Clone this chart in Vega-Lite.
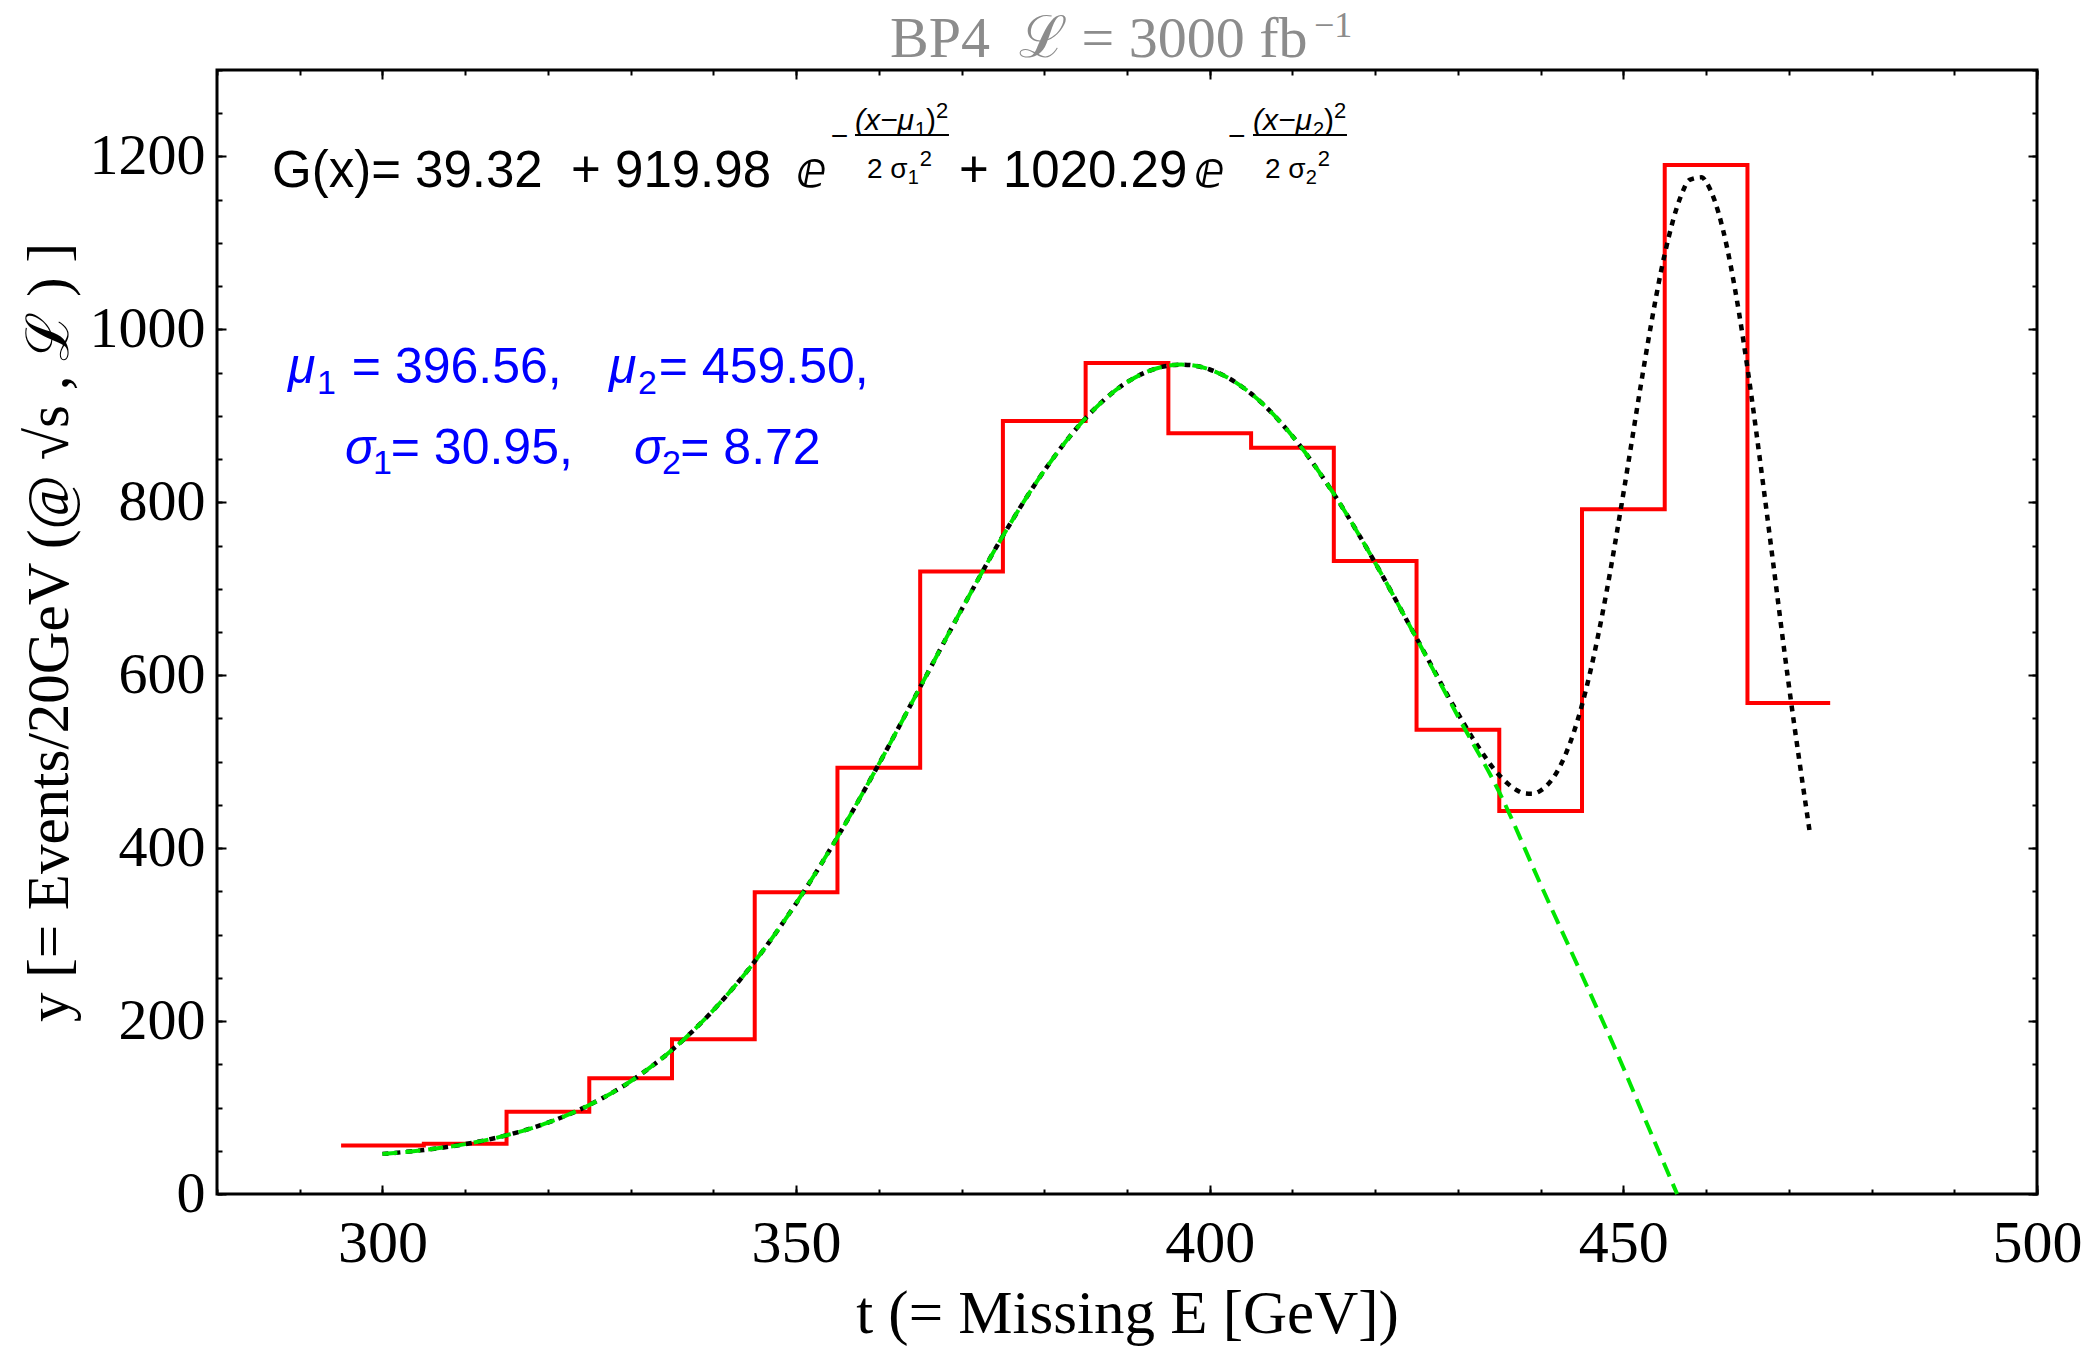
{
  "$schema": "https://vega.github.io/schema/vega-lite/v6.json",
  "width": 1820,
  "height": 1124,
  "autosize": {"type": "none"},
  "padding": {"left": 217, "top": 70, "right": 46, "bottom": 154},
  "background": "white",
  "config": {
    "view": {"stroke": "black", "strokeWidth": 3},
    "axis": {"grid": false, "domain": false, "tickColor": "black", "tickWidth": 2, "labelColor": "black", "titleColor": "black"}
  },
  "resolve": {"axis": {"x": "independent", "y": "independent"}},
  "layer": [
    {
      "data": {"values": [
        {"t": 295, "n": 56}, {"t": 305, "n": 58}, {"t": 315, "n": 95}, {"t": 325, "n": 134},
        {"t": 335, "n": 179}, {"t": 345, "n": 349}, {"t": 355, "n": 493}, {"t": 365, "n": 720},
        {"t": 375, "n": 894}, {"t": 385, "n": 961}, {"t": 395, "n": 880}, {"t": 405, "n": 863},
        {"t": 415, "n": 732}, {"t": 425, "n": 537}, {"t": 435, "n": 443}, {"t": 445, "n": 792},
        {"t": 455, "n": 1190}, {"t": 465, "n": 568}, {"t": 475, "n": 568}
      ]},
      "mark": {"type": "line", "interpolate": "step-after", "color": "#ff0000", "strokeWidth": 4},
      "encoding": {
        "x": {"field": "t", "type": "quantitative", "scale": {"domain": [280, 500], "nice": false, "zero": false},
          "axis": {"orient": "bottom", "values": [300, 350, 400, 450, 500], "tickSize": -9, "labelPadding": 29,
            "labelFont": "Liberation Serif", "labelFontSize": 60, "labelFlush": false, "labelOverlap": false, "format": "d",
            "title": "t (= Missing E [GeV])", "titleFont": "Liberation Serif", "titleFontSize": 61, "titleFontWeight": "normal",
            "titleX": 910, "titleY": 138, "titleBaseline": "alphabetic", "titleAlign": "center"}},
        "y": {"field": "n", "type": "quantitative", "scale": {"domain": [0, 1300], "nice": false, "zero": false},
          "axis": {"orient": "left", "values": [0, 200, 400, 600, 800, 1000, 1200], "tickSize": -9, "labelPadding": 21,
            "labelFont": "Liberation Serif", "labelFontSize": 58, "labelFlush": false, "labelOverlap": false, "format": "d",
            "title": "y [= Events/20GeV (@ √s , ℒ ) ]", "titleFont": "Liberation Serif", "titleFontSize": 59, "titleFontWeight": "normal",
            "titleX": -150, "titleY": 562, "titleAngle": -90, "titleBaseline": "alphabetic", "titleAlign": "center"}}
      }
    },
    {
      "data": {"values": [
        {"t": 300, "g": 46.4}, {"t": 305, "g": 50.9}, {"t": 310, "g": 57.7}, {"t": 315, "g": 67.9},
        {"t": 320, "g": 82.5}, {"t": 325, "g": 102.9}, {"t": 330, "g": 130.4}, {"t": 335, "g": 166.6},
        {"t": 340, "g": 212.6}, {"t": 345, "g": 269.0}, {"t": 350, "g": 336.1}, {"t": 355, "g": 412.8},
        {"t": 360, "g": 497.2}, {"t": 365, "g": 586.3}, {"t": 370, "g": 675.9}, {"t": 375, "g": 761.1},
        {"t": 380, "g": 836.6}, {"t": 385, "g": 897.3}, {"t": 390, "g": 938.9}, {"t": 395, "g": 958.1},
        {"t": 396.56, "g": 959.3}, {"t": 400, "g": 953.6}, {"t": 405, "g": 925.7}, {"t": 410, "g": 876.5},
        {"t": 415, "g": 809.7}, {"t": 420, "g": 730.0}, {"t": 425, "g": 642.9}, {"t": 430, "g": 555.9},
        {"t": 432, "g": 524.0}, {"t": 435, "g": 484.4}, {"t": 437, "g": 467.7}, {"t": 438, "g": 463.5},
        {"t": 439, "g": 463.0}, {"t": 440, "g": 466.6}, {"t": 442, "g": 488.6}, {"t": 443, "g": 508.1},
        {"t": 445, "g": 565.7}, {"t": 447, "g": 648.3}, {"t": 448, "g": 698.1}, {"t": 450, "g": 810.1},
        {"t": 452, "g": 929.0}, {"t": 453, "g": 986.5}, {"t": 455, "g": 1087.1}, {"t": 457, "g": 1155.2},
        {"t": 458, "g": 1172.9}, {"t": 459.5, "g": 1175.9}, {"t": 460, "g": 1170.5}, {"t": 461, "g": 1149.9},
        {"t": 462, "g": 1116.9}, {"t": 464, "g": 1018.1}, {"t": 465, "g": 955.3}, {"t": 467, "g": 813.1},
        {"t": 468, "g": 737.9}, {"t": 470, "g": 588.6}, {"t": 472.5, "g": 420.4}
      ]},
      "mark": {"type": "line", "interpolate": "monotone", "color": "black", "strokeWidth": 4.5, "strokeDash": [6, 6]},
      "encoding": {
        "x": {"field": "t", "type": "quantitative", "axis": {"orient": "bottom", "values": [280, 290, 300, 310, 320, 330, 340, 350, 360, 370, 380, 390, 400, 410, 420, 430, 440, 450, 460, 470, 480, 490, 500], "tickSize": -5, "labels": false, "title": null}},
        "y": {"field": "g", "type": "quantitative", "axis": {"orient": "left", "values": [0, 50, 100, 150, 200, 250, 300, 350, 400, 450, 500, 550, 600, 650, 700, 750, 800, 850, 900, 950, 1000, 1050, 1100, 1150, 1200, 1250, 1300], "tickSize": -5, "labels": false, "title": null}}
      }
    },
    {
      "data": {"values": [
        {"t": 300, "f": 46.4}, {"t": 305, "f": 50.9}, {"t": 310, "f": 57.7}, {"t": 315, "f": 67.9},
        {"t": 320, "f": 82.5}, {"t": 325, "f": 102.9}, {"t": 330, "f": 130.4}, {"t": 335, "f": 166.6},
        {"t": 340, "f": 212.6}, {"t": 345, "f": 269.0}, {"t": 350, "f": 336.1}, {"t": 355, "f": 412.8},
        {"t": 360, "f": 497.2}, {"t": 365, "f": 586.3}, {"t": 370, "f": 675.9}, {"t": 375, "f": 761.1},
        {"t": 380, "f": 836.6}, {"t": 385, "f": 897.3}, {"t": 390, "f": 938.9}, {"t": 395, "f": 958.1},
        {"t": 396.56, "f": 959.3}, {"t": 400, "f": 953.6}, {"t": 405, "f": 925.7}, {"t": 410, "f": 876.5},
        {"t": 415, "f": 809.7}, {"t": 420, "f": 729.9}, {"t": 425, "f": 642.5}, {"t": 430, "f": 552.5},
        {"t": 435, "f": 464.7}, {"t": 440, "f": 358}, {"t": 445, "f": 253}, {"t": 450, "f": 146},
        {"t": 453, "f": 78}, {"t": 456.5, "f": 0}
      ]},
      "mark": {"type": "line", "interpolate": "monotone", "color": "#00e600", "strokeWidth": 4, "strokeDash": [15, 8]},
      "encoding": {
        "x": {"field": "t", "type": "quantitative", "axis": {"orient": "top", "values": [300, 350, 400, 450, 500], "tickSize": -9, "labels": false, "title": null}},
        "y": {"field": "f", "type": "quantitative", "axis": {"orient": "right", "values": [0, 200, 400, 600, 800, 1000, 1200], "tickSize": -9, "labels": false, "title": null}}
      }
    },
    {
      "data": {"values": [{}]},
      "mark": {"type": "rule", "color": "black", "strokeWidth": 2},
      "encoding": {
        "x": {"datum": 357.12, "type": "quantitative", "axis": {"orient": "top", "values": [280, 290, 300, 310, 320, 330, 340, 350, 360, 370, 380, 390, 400, 410, 420, 430, 440, 450, 460, 470, 480, 490, 500], "tickSize": -5, "labels": false, "title": null}},
        "x2": {"datum": 368.48},
        "y": {"datum": 1224.8, "type": "quantitative", "axis": {"orient": "right", "values": [0, 50, 100, 150, 200, 250, 300, 350, 400, 450, 500, 550, 600, 650, 700, 750, 800, 850, 900, 950, 1000, 1050, 1100, 1150, 1200, 1250, 1300], "tickSize": -5, "labels": false, "title": null}}
      }
    },
    {
      "data": {"values": [{}]},
      "mark": {"type": "rule", "color": "black", "strokeWidth": 2},
      "encoding": {
        "x": {"datum": 405.23, "type": "quantitative", "axis": null},
        "x2": {"datum": 416.59},
        "y": {"datum": 1224.8, "type": "quantitative", "axis": null}
      }
    },
    {"data": {"values": [{}]}, "mark": {"type": "text", "text": "BP4\u00a0 ℒ = 3000 fb", "font": "Liberation Serif", "fontSize": 58, "align": "left", "baseline": "alphabetic", "color": "#8c8c8c"},
      "encoding": {"x": {"datum": 361.35, "type": "quantitative", "axis": null}, "y": {"datum": 1315.0, "type": "quantitative", "axis": null}}},
    {"data": {"values": [{}]}, "mark": {"type": "text", "text": "−1", "font": "Liberation Serif", "fontSize": 36, "align": "left", "baseline": "alphabetic", "color": "#8c8c8c"},
      "encoding": {"x": {"datum": 412.6, "type": "quantitative", "axis": null}, "y": {"datum": 1338.2, "type": "quantitative", "axis": null}}},
    {"data": {"values": [{}]}, "mark": {"type": "text", "text": "G(x)= 39.32\u00a0 + 919.98", "font": "Liberation Sans", "fontSize": 51, "align": "left", "baseline": "alphabetic", "color": "black"},
      "encoding": {"x": {"datum": 286.65, "type": "quantitative", "axis": null}, "y": {"datum": 1164.7, "type": "quantitative", "axis": null}}},
    {"data": {"values": [{}]}, "mark": {"type": "text", "text": "ⅇ", "font": "DejaVu Sans", "fontSize": 50, "align": "left", "baseline": "alphabetic", "color": "black"},
      "encoding": {"x": {"datum": 350.0, "type": "quantitative", "axis": null}, "y": {"datum": 1164.7, "type": "quantitative", "axis": null}}},
    {"data": {"values": [{}]}, "mark": {"type": "text", "text": "−", "font": "Liberation Sans", "fontSize": 30, "align": "left", "baseline": "alphabetic", "color": "black"},
      "encoding": {"x": {"datum": 354.2, "type": "quantitative", "axis": null}, "y": {"datum": 1212.1, "type": "quantitative", "axis": null}}},
    {"data": {"values": [{}]}, "mark": {"type": "text", "text": "(x−μ", "font": "Liberation Sans", "fontSize": 30, "fontStyle": "italic", "align": "left", "baseline": "alphabetic", "color": "black"},
      "encoding": {"x": {"datum": 357.12, "type": "quantitative", "axis": null}, "y": {"datum": 1230.6, "type": "quantitative", "axis": null}}},
    {"data": {"values": [{}]}, "mark": {"type": "text", "text": "1", "font": "Liberation Sans", "fontSize": 20, "align": "left", "baseline": "alphabetic", "color": "black"},
      "encoding": {"x": {"datum": 364.37, "type": "quantitative", "axis": null}, "y": {"datum": 1223.7, "type": "quantitative", "axis": null}}},
    {"data": {"values": [{}]}, "mark": {"type": "text", "text": ")", "font": "Liberation Sans", "fontSize": 30, "align": "left", "baseline": "alphabetic", "color": "black"},
      "encoding": {"x": {"datum": 365.7, "type": "quantitative", "axis": null}, "y": {"datum": 1230.6, "type": "quantitative", "axis": null}}},
    {"data": {"values": [{}]}, "mark": {"type": "text", "text": "2", "font": "Liberation Sans", "fontSize": 22, "align": "left", "baseline": "alphabetic", "color": "black"},
      "encoding": {"x": {"datum": 366.91, "type": "quantitative", "axis": null}, "y": {"datum": 1244.5, "type": "quantitative", "axis": null}}},
    {"data": {"values": [{}]}, "mark": {"type": "text", "text": "2 σ", "font": "Liberation Sans", "fontSize": 28, "align": "left", "baseline": "alphabetic", "color": "black"},
      "encoding": {"x": {"datum": 358.57, "type": "quantitative", "axis": null}, "y": {"datum": 1175.1, "type": "quantitative", "axis": null}}},
    {"data": {"values": [{}]}, "mark": {"type": "text", "text": "1", "font": "Liberation Sans", "fontSize": 20, "align": "left", "baseline": "alphabetic", "color": "black"},
      "encoding": {"x": {"datum": 363.5, "type": "quantitative", "axis": null}, "y": {"datum": 1168.1, "type": "quantitative", "axis": null}}},
    {"data": {"values": [{}]}, "mark": {"type": "text", "text": "2", "font": "Liberation Sans", "fontSize": 22, "align": "left", "baseline": "alphabetic", "color": "black"},
      "encoding": {"x": {"datum": 364.95, "type": "quantitative", "axis": null}, "y": {"datum": 1189.0, "type": "quantitative", "axis": null}}},
    {"data": {"values": [{}]}, "mark": {"type": "text", "text": "+ 1020.29", "font": "Liberation Sans", "fontSize": 51, "align": "left", "baseline": "alphabetic", "color": "black"},
      "encoding": {"x": {"datum": 369.69, "type": "quantitative", "axis": null}, "y": {"datum": 1164.7, "type": "quantitative", "axis": null}}},
    {"data": {"values": [{}]}, "mark": {"type": "text", "text": "ⅇ", "font": "DejaVu Sans", "fontSize": 50, "align": "left", "baseline": "alphabetic", "color": "black"},
      "encoding": {"x": {"datum": 398.1, "type": "quantitative", "axis": null}, "y": {"datum": 1164.7, "type": "quantitative", "axis": null}}},
    {"data": {"values": [{}]}, "mark": {"type": "text", "text": "−", "font": "Liberation Sans", "fontSize": 30, "align": "left", "baseline": "alphabetic", "color": "black"},
      "encoding": {"x": {"datum": 402.21, "type": "quantitative", "axis": null}, "y": {"datum": 1212.1, "type": "quantitative", "axis": null}}},
    {"data": {"values": [{}]}, "mark": {"type": "text", "text": "(x−μ", "font": "Liberation Sans", "fontSize": 30, "fontStyle": "italic", "align": "left", "baseline": "alphabetic", "color": "black"},
      "encoding": {"x": {"datum": 405.23, "type": "quantitative", "axis": null}, "y": {"datum": 1230.6, "type": "quantitative", "axis": null}}},
    {"data": {"values": [{}]}, "mark": {"type": "text", "text": "2", "font": "Liberation Sans", "fontSize": 20, "align": "left", "baseline": "alphabetic", "color": "black"},
      "encoding": {"x": {"datum": 412.48, "type": "quantitative", "axis": null}, "y": {"datum": 1223.7, "type": "quantitative", "axis": null}}},
    {"data": {"values": [{}]}, "mark": {"type": "text", "text": ")", "font": "Liberation Sans", "fontSize": 30, "align": "left", "baseline": "alphabetic", "color": "black"},
      "encoding": {"x": {"datum": 413.81, "type": "quantitative", "axis": null}, "y": {"datum": 1230.6, "type": "quantitative", "axis": null}}},
    {"data": {"values": [{}]}, "mark": {"type": "text", "text": "2", "font": "Liberation Sans", "fontSize": 22, "align": "left", "baseline": "alphabetic", "color": "black"},
      "encoding": {"x": {"datum": 415.02, "type": "quantitative", "axis": null}, "y": {"datum": 1244.5, "type": "quantitative", "axis": null}}},
    {"data": {"values": [{}]}, "mark": {"type": "text", "text": "2 σ", "font": "Liberation Sans", "fontSize": 28, "align": "left", "baseline": "alphabetic", "color": "black"},
      "encoding": {"x": {"datum": 406.68, "type": "quantitative", "axis": null}, "y": {"datum": 1175.1, "type": "quantitative", "axis": null}}},
    {"data": {"values": [{}]}, "mark": {"type": "text", "text": "2", "font": "Liberation Sans", "fontSize": 20, "align": "left", "baseline": "alphabetic", "color": "black"},
      "encoding": {"x": {"datum": 411.61, "type": "quantitative", "axis": null}, "y": {"datum": 1168.1, "type": "quantitative", "axis": null}}},
    {"data": {"values": [{}]}, "mark": {"type": "text", "text": "2", "font": "Liberation Sans", "fontSize": 22, "align": "left", "baseline": "alphabetic", "color": "black"},
      "encoding": {"x": {"datum": 413.06, "type": "quantitative", "axis": null}, "y": {"datum": 1189.0, "type": "quantitative", "axis": null}}},
    {"data": {"values": [{}]}, "mark": {"type": "text", "text": "μ", "font": "Liberation Sans", "fontSize": 50, "fontStyle": "italic", "align": "left", "baseline": "alphabetic", "color": "#0000ff"},
      "encoding": {"x": {"datum": 288.58, "type": "quantitative", "axis": null}, "y": {"datum": 937.6, "type": "quantitative", "axis": null}}},
    {"data": {"values": [{}]}, "mark": {"type": "text", "text": "1", "font": "Liberation Sans", "fontSize": 34, "align": "left", "baseline": "alphabetic", "color": "#0000ff"},
      "encoding": {"x": {"datum": 292.09, "type": "quantitative", "axis": null}, "y": {"datum": 925.3, "type": "quantitative", "axis": null}}},
    {"data": {"values": [{}]}, "mark": {"type": "text", "text": "= 396.56,", "font": "Liberation Sans", "fontSize": 50, "align": "left", "baseline": "alphabetic", "color": "#0000ff"},
      "encoding": {"x": {"datum": 296.3, "type": "quantitative", "axis": null}, "y": {"datum": 937.6, "type": "quantitative", "axis": null}}},
    {"data": {"values": [{}]}, "mark": {"type": "text", "text": "μ", "font": "Liberation Sans", "fontSize": 50, "fontStyle": "italic", "align": "left", "baseline": "alphabetic", "color": "#0000ff"},
      "encoding": {"x": {"datum": 327.39, "type": "quantitative", "axis": null}, "y": {"datum": 937.6, "type": "quantitative", "axis": null}}},
    {"data": {"values": [{}]}, "mark": {"type": "text", "text": "2", "font": "Liberation Sans", "fontSize": 34, "align": "left", "baseline": "alphabetic", "color": "#0000ff"},
      "encoding": {"x": {"datum": 330.9, "type": "quantitative", "axis": null}, "y": {"datum": 925.3, "type": "quantitative", "axis": null}}},
    {"data": {"values": [{}]}, "mark": {"type": "text", "text": "= 459.50,", "font": "Liberation Sans", "fontSize": 50, "align": "left", "baseline": "alphabetic", "color": "#0000ff"},
      "encoding": {"x": {"datum": 333.4, "type": "quantitative", "axis": null}, "y": {"datum": 937.6, "type": "quantitative", "axis": null}}},
    {"data": {"values": [{}]}, "mark": {"type": "text", "text": "σ", "font": "Liberation Sans", "fontSize": 50, "fontStyle": "italic", "align": "left", "baseline": "alphabetic", "color": "#0000ff"},
      "encoding": {"x": {"datum": 295.47, "type": "quantitative", "axis": null}, "y": {"datum": 844.3, "type": "quantitative", "axis": null}}},
    {"data": {"values": [{}]}, "mark": {"type": "text", "text": "1", "font": "Liberation Sans", "fontSize": 34, "align": "left", "baseline": "alphabetic", "color": "#0000ff"},
      "encoding": {"x": {"datum": 298.86, "type": "quantitative", "axis": null}, "y": {"datum": 832.7, "type": "quantitative", "axis": null}}},
    {"data": {"values": [{}]}, "mark": {"type": "text", "text": "= 30.95,", "font": "Liberation Sans", "fontSize": 50, "align": "left", "baseline": "alphabetic", "color": "#0000ff"},
      "encoding": {"x": {"datum": 301.0, "type": "quantitative", "axis": null}, "y": {"datum": 844.3, "type": "quantitative", "axis": null}}},
    {"data": {"values": [{}]}, "mark": {"type": "text", "text": "σ", "font": "Liberation Sans", "fontSize": 50, "fontStyle": "italic", "align": "left", "baseline": "alphabetic", "color": "#0000ff"},
      "encoding": {"x": {"datum": 330.41, "type": "quantitative", "axis": null}, "y": {"datum": 844.3, "type": "quantitative", "axis": null}}},
    {"data": {"values": [{}]}, "mark": {"type": "text", "text": "2", "font": "Liberation Sans", "fontSize": 34, "align": "left", "baseline": "alphabetic", "color": "#0000ff"},
      "encoding": {"x": {"datum": 333.79, "type": "quantitative", "axis": null}, "y": {"datum": 832.7, "type": "quantitative", "axis": null}}},
    {"data": {"values": [{}]}, "mark": {"type": "text", "text": "= 8.72", "font": "Liberation Sans", "fontSize": 50, "align": "left", "baseline": "alphabetic", "color": "#0000ff"},
      "encoding": {"x": {"datum": 336.0, "type": "quantitative", "axis": null}, "y": {"datum": 844.3, "type": "quantitative", "axis": null}}}
  ]
}
